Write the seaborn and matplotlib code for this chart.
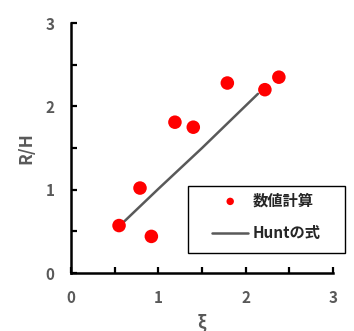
import matplotlib
matplotlib.use("Agg")
import matplotlib.pyplot as plt
from matplotlib.patches import Rectangle
import numpy as np
import pandas as pd
import seaborn as sns

# values
xi_num = [0.55, 0.79, 0.92, 1.19, 1.40, 1.79, 2.22, 2.38]
rh_num = [0.57, 1.02, 0.44, 1.81, 1.75, 2.28, 2.20, 2.35]
xi_hunt = [0.56, 1.00, 1.50, 2.14]
rh_hunt = [0.57, 1.01, 1.50, 2.15]
tick_values = [0, 0.5, 1, 1.5, 2, 2.5, 3]
tick_labels = ["0", "", "1", "", "2", "", "3"]
label_num = "数値計算"
label_hunt = "Huntの式"

sns.set_style("ticks")
plt.rcParams["font.family"] = ["Noto Sans CJK JP", "DejaVu Sans"]
plt.rcParams["font.weight"] = "bold"

gray = "#595959"

fig = plt.figure(figsize=(3.54, 3.31), dpi=100)
ax = fig.add_axes([0.2006, 0.175, 0.7401, 0.7555])

num_df = pd.DataFrame({"xi": xi_num, "rh": rh_num})
hunt_df = pd.DataFrame({"xi": xi_hunt, "rh": rh_hunt})

sns.lineplot(data=hunt_df, x="xi", y="rh", ax=ax, color=gray, linewidth=1.8,
             label=label_hunt, zorder=2)
sns.scatterplot(data=num_df, x="xi", y="rh", ax=ax, color="#ff0000", s=95,
                edgecolor="none", label=label_num, zorder=3)

ax.set_xlim(0, 3)
ax.set_ylim(0, 3)
ax.set_xticks(tick_values)
ax.set_xticklabels(tick_labels)
ax.set_yticks(tick_values)
ax.set_yticklabels(tick_labels)
ax.tick_params(direction="in", length=4.5, width=1.6, color="black",
               labelsize=11, labelcolor=gray, pad=12)
for lbl in ax.get_xticklabels() + ax.get_yticklabels():
    lbl.set_fontweight("bold")

for side in ["top", "right"]:
    ax.spines[side].set_visible(False)
for side in ["left", "bottom"]:
    ax.spines[side].set_linewidth(1.8)
    ax.spines[side].set_color("black")

ax.set_xlabel("ξ", fontsize=12, color=gray, fontweight="bold", labelpad=5)
ax.set_ylabel("R/H", fontsize=12.5, color=gray, fontweight="bold", labelpad=7)

# legend: entries reordered (points first), framed by a box in figure coords
handles, labels = ax.get_legend_handles_labels()
order = [labels.index(label_num), labels.index(label_hunt)]
ax.get_legend().remove()
leg = fig.legend([handles[i] for i in order], [labels[i] for i in order],
                 loc="center", bbox_to_anchor=(0.7528, 0.345),
                 frameon=False, fontsize=11, handlelength=2.35,
                 handletextpad=0.3, labelspacing=1.1, markerscale=0.55)
for txt in leg.get_texts():
    txt.set_fontweight("bold")

fig.add_artist(Rectangle((188 / 354, 1 - 253 / 331), 157 / 354, 67 / 331,
                         transform=fig.transFigure, fill=False,
                         edgecolor="black", linewidth=1.0))

fig.savefig("out.png", dpi=100)
